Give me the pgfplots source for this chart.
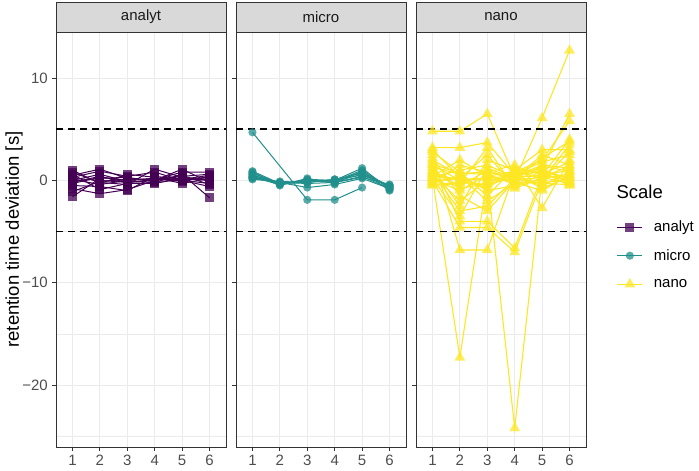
\documentclass[border=0pt]{standalone}
\usepackage{pgfplots}
\pgfplotsset{compat=1.18}
\usepackage{fontspec}
\setmainfont{Liberation Sans}
\definecolor{cA}{HTML}{440154}
\definecolor{cM}{HTML}{21908C}
\definecolor{cN}{HTML}{FDE725}
\definecolor{gridc}{HTML}{EBEBEB}
\definecolor{bord}{HTML}{333333}
\definecolor{stripc}{HTML}{D9D9D9}
\definecolor{ticklab}{HTML}{4D4D4D}
\definecolor{striptext}{HTML}{1A1A1A}
\pgfplotsset{
  facet/.style={
    width=170pt, height=415pt, scale only axis,
    xmin=0.4, xmax=6.6, ymin=-26.05, ymax=14.5,
    xtick={1,2,3,4,5,6},
    ytick={-20,-10,0,10},
    yticklabels={−20,−10,0,10},
    minor ytick={-25,-15,-5,5},
    grid=both,
    major grid style={draw=gridc, line width=1.1pt},
    minor grid style={draw=gridc, line width=0.55pt},
    axis line style={draw=bord, line width=0.8pt},
    tick style={draw=bord, line width=0.8pt},
    major tick length=4pt, minor tick length=0pt,
    tick align=outside,
    xtick pos=bottom, ytick pos=left,
    ticklabel style={font=\fontsize{15}{17}\selectfont, text=ticklab},
    xticklabel style={inner sep=4pt},
    yticklabel style={inner sep=4pt},
    /pgf/number format/assume math mode=true,
  },
  sA/.style={cA, line width=1.0pt, mark=square*, mark size=4.6pt, mark options={solid, fill=cA, draw opacity=0, fill opacity=0.75}},
  sM/.style={cM, line width=1.0pt, mark=*, mark size=4.1pt, mark options={solid, fill=cM, draw opacity=0, fill opacity=0.75}},
  sN/.style={cN, line width=1.1pt, mark=triangle*, mark size=6.2pt, mark options={solid, fill=cN, draw opacity=0, fill opacity=0.75}},
  hl/.style={black, line width=1.6pt, dash pattern=on 7pt off 5pt, forget plot},
}
\begin{document}
\begin{tikzpicture}
\useasboundingbox (0,0) rectangle (699pt,-471pt);
% ---------------- analyt
\begin{axis}[facet, name=ax1, at={(56pt,-447pt)}, anchor=south west]
\addplot[sA] coordinates {(1,0.2)(2,0.0)(3,-0.2)(4,0.1)(5,0.2)(6,0.1)};
\addplot[sA] coordinates {(1,-0.3)(2,0.3)(3,0.0)(4,0.2)(5,0.0)(6,0.3)};
\addplot[sA] coordinates {(1,0.8)(2,-0.2)(3,-0.4)(4,1.1)(5,0.3)(6,0.0)};
\addplot[sA] coordinates {(1,-1.6)(2,0.2)(3,0.3)(4,-0.1)(5,0.0)(6,-0.3)};
\addplot[sA] coordinates {(1,0.5)(2,1.1)(3,0.2)(4,0.0)(5,1.1)(6,-0.2)};
\addplot[sA] coordinates {(1,-0.8)(2,-1.3)(3,-0.9)(4,0.0)(5,0.4)(6,0.6)};
\addplot[sA] coordinates {(1,1.0)(2,-0.3)(3,0.6)(4,0.3)(5,-0.3)(6,0.2)};
\addplot[sA] coordinates {(1,0.0)(2,0.6)(3,-0.1)(4,-0.2)(5,0.6)(6,-1.7)};
\addplot[sA] coordinates {(1,-0.5)(2,-0.6)(3,-1.0)(4,0.4)(5,0.1)(6,0.5)};
\addplot[sA] coordinates {(1,0.3)(2,0.9)(3,0.4)(4,0.8)(5,0.0)(6,-0.6)};
\addplot[sA] coordinates {(1,-1.1)(2,-0.1)(3,0.1)(4,0.1)(5,0.8)(6,0.8)};
\addplot[sA] coordinates {(1,0.6)(2,-0.9)(3,-0.3)(4,-0.3)(5,0.2)(6,0.0)};
\addplot[sA] coordinates {(1,0.1)(2,-0.4)(3,0.0)(4,0.2)(5,-0.1)(6,0.4)};
\addplot[sA] coordinates {(1,-0.2)(2,0.4)(3,-0.2)(4,0.0)(5,0.5)(6,-0.4)};
\addplot[hl] coordinates {(0.4,5)(6.6,5)};
\addplot[hl] coordinates {(0.4,-5)(6.6,-5)};
\end{axis}
% ---------------- micro
\begin{axis}[facet, name=ax2, at={(236pt,-447pt)}, anchor=south west, yticklabels={}]
\addplot[sM] coordinates {(1,0.4)(2,-0.3)(3,-0.1)(4,-0.1)(5,0.6)(6,-0.6)};
\addplot[sM] coordinates {(1,0.8)(2,-0.4)(3,0.1)(4,0.0)(5,1.2)(6,-0.9)};
\addplot[sM] coordinates {(1,0.2)(2,-0.2)(3,-0.3)(4,-0.2)(5,0.3)(6,-0.4)};
\addplot[sM] coordinates {(1,0.6)(2,-0.5)(3,0.2)(4,-0.3)(5,0.9)(6,-1.0)};
\addplot[sM] coordinates {(1,0.1)(2,-0.1)(3,-0.2)(4,0.1)(5,0.5)(6,-0.5)};
\addplot[sM] coordinates {(1,0.9)(2,-0.3)(3,0.0)(4,-0.1)(5,1.0)(6,-0.7)};
\addplot[sM] coordinates {(1,0.5)(2,-0.2)(3,-0.1)(4,0.0)(5,0.8)(6,-0.6)};
\addplot[sM] coordinates {(1,0.3)(2,-0.4)(3,0.0)(4,-0.2)(5,0.4)(6,-0.8)};
\addplot[sM] coordinates {(1,0.7)(2,-0.3)(3,-0.2)(4,0.1)(5,0.7)(6,-0.5)};
\addplot[sM] coordinates {(1,4.7)(3,-1.9)(4,-1.9)(5,-0.7)};
\addplot[sM] coordinates {(1,0.3)(2,-0.2)(3,-0.7)(4,-0.4)(5,0.2)(6,-0.8)};
\addplot[hl] coordinates {(0.4,5)(6.6,5)};
\addplot[hl] coordinates {(0.4,-5)(6.6,-5)};
\end{axis}
% ---------------- nano
\begin{axis}[facet, name=ax3, at={(416pt,-447pt)}, anchor=south west, yticklabels={},
  legend style={at={(1.18,0.5645)}, anchor=north west, draw=none, fill=none,
    inner sep=0pt, row sep=0pt,
    nodes={inner sep=0pt, minimum height=28.5pt, font=\fontsize{15}{17}\selectfont, text=black},
    /tikz/every odd column/.append style={column sep=11pt}},
  legend cell align=left,
  legend image code/.code={\draw[mark repeat=2,mark phase=2,#1] plot coordinates {(0pt,0pt)(12.5pt,0pt)(25pt,0pt)};}]
\addlegendimage{sA}\addlegendentry{analyt}
\addlegendimage{sM}\addlegendentry{micro}
\addlegendimage{sN}\addlegendentry{nano}
\pgfplotsset{every axis plot/.append style={forget plot}}
\addplot[sN] coordinates {(1,4.8)(2,4.8)(3,6.5)(4,0.3)(5,0.5)(6,1.0)};
\addplot[sN] coordinates {(1,0.2)(2,-17.3)(3,0.3)(4,0.0)(5,6.1)(6,12.7)};
\addplot[sN] coordinates {(1,0.5)(2,0.1)(3,0.2)(4,-24.2)(5,0.4)(6,0.3)};
\addplot[sN] coordinates {(1,3.2)(2,3.2)(3,3.7)(4,0.5)(5,1.2)(6,6.5)};
\addplot[sN] coordinates {(1,2.5)(2,-6.8)(3,-6.8)(4,0.8)(5,2.0)(6,5.8)};
\addplot[sN] coordinates {(1,1.8)(2,-4.0)(3,-4.0)(4,-6.6)(5,0.5)(6,4.0)};
\addplot[sN] coordinates {(1,0.0)(2,-4.6)(3,-4.6)(4,-7.0)(5,0.0)(6,3.5)};
\addplot[sN] coordinates {(1,1.2)(2,-2.5)(3,2.0)(4,1.0)(5,3.0)(6,3.0)};
\addplot[sN] coordinates {(1,-0.3)(2,1.5)(3,0.8)(4,1.5)(5,-2.7)(6,2.0)};
\addplot[sN] coordinates {(1,0.8)(2,-3.0)(3,-2.5)(4,0.2)(5,2.5)(6,1.5)};
\addplot[sN] coordinates {(1,2.0)(2,0.5)(3,-1.0)(4,-0.5)(5,1.0)(6,0.2)};
\addplot[sN] coordinates {(1,0.3)(2,1.0)(3,1.5)(4,0.3)(5,-0.5)(6,0.8)};
\addplot[sN] coordinates {(1,-0.5)(2,-0.3)(3,3.2)(4,-0.8)(5,0.3)(6,-0.3)};
\addplot[sN] coordinates {(1,1.5)(2,0.0)(3,-0.5)(4,0.6)(5,1.8)(6,2.5)};
\addplot[sN] coordinates {(1,0.1)(2,-1.0)(3,0.5)(4,-0.2)(5,-1.0)(6,0.5)};
\addplot[sN] coordinates {(1,2.8)(2,0.8)(3,-1.5)(4,1.2)(5,0.8)(6,-0.5)};
\addplot[sN] coordinates {(1,0.6)(2,-2.0)(3,0.0)(4,0.4)(5,1.5)(6,1.2)};
\addplot[sN] coordinates {(1,-0.2)(2,0.4)(3,-2.0)(4,-0.3)(5,-0.2)(6,0.0)};
\addplot[sN] coordinates {(1,1.0)(2,-0.6)(3,1.0)(4,0.1)(5,2.2)(6,3.8)};
\addplot[sN] coordinates {(1,0.4)(2,2.0)(3,0.4)(4,0.9)(5,0.2)(6,0.6)};
\addplot[sN] coordinates {(1,2.2)(2,-1.5)(3,-3.0)(4,0.0)(5,1.1)(6,-0.2)};
\addplot[sN] coordinates {(1,-0.1)(2,0.2)(3,2.5)(4,-0.6)(5,0.6)(6,1.8)};
\addplot[sN] coordinates {(1,0.9)(2,-0.8)(3,-0.3)(4,0.7)(5,-0.8)(6,0.4)};
\addplot[sN] coordinates {(1,1.6)(2,0.7)(3,0.6)(4,-0.4)(5,0.1)(6,2.8)};
\addplot[sN] coordinates {(1,0.2)(2,-3.5)(3,1.2)(4,0.2)(5,1.4)(6,0.9)};
\addplot[sN] coordinates {(1,3.0)(2,0.3)(3,-0.8)(4,1.1)(5,0.7)(6,-0.1)};
\addplot[sN] coordinates {(1,0.7)(2,0.0)(3,0.2)(4,0.5)(5,0.9)(6,0.2)};
\addplot[sN] coordinates {(1,1.3)(2,0.6)(3,0.9)(4,0.0)(5,0.3)(6,1.4)};
\addplot[sN] coordinates {(1,-0.4)(2,-0.2)(3,-0.4)(4,0.3)(5,-0.3)(6,-0.4)};
\addplot[hl] coordinates {(0.4,5)(6.6,5)};
\addplot[hl] coordinates {(0.4,-5)(6.6,-5)};
\end{axis}
% strips
\foreach \a/\t in {ax1/analyt, ax2/micro, ax3/nano}{
  \draw[bord, fill=stripc, line width=0.8pt] (\a.north west) rectangle ([yshift=30pt]\a.north east);
  \node[font=\fontsize{15}{17}\selectfont, text=striptext] at ([yshift=15pt]\a.north) {\t};
}
\node[rotate=90, font=\fontsize{18.5}{21}\selectfont] at (14pt,-239.5pt) {retention time deviation [s]};
\node[anchor=west, font=\fontsize{18.5}{21}\selectfont] at (613pt,-192pt) {Scale};
\end{tikzpicture}
\end{document}
